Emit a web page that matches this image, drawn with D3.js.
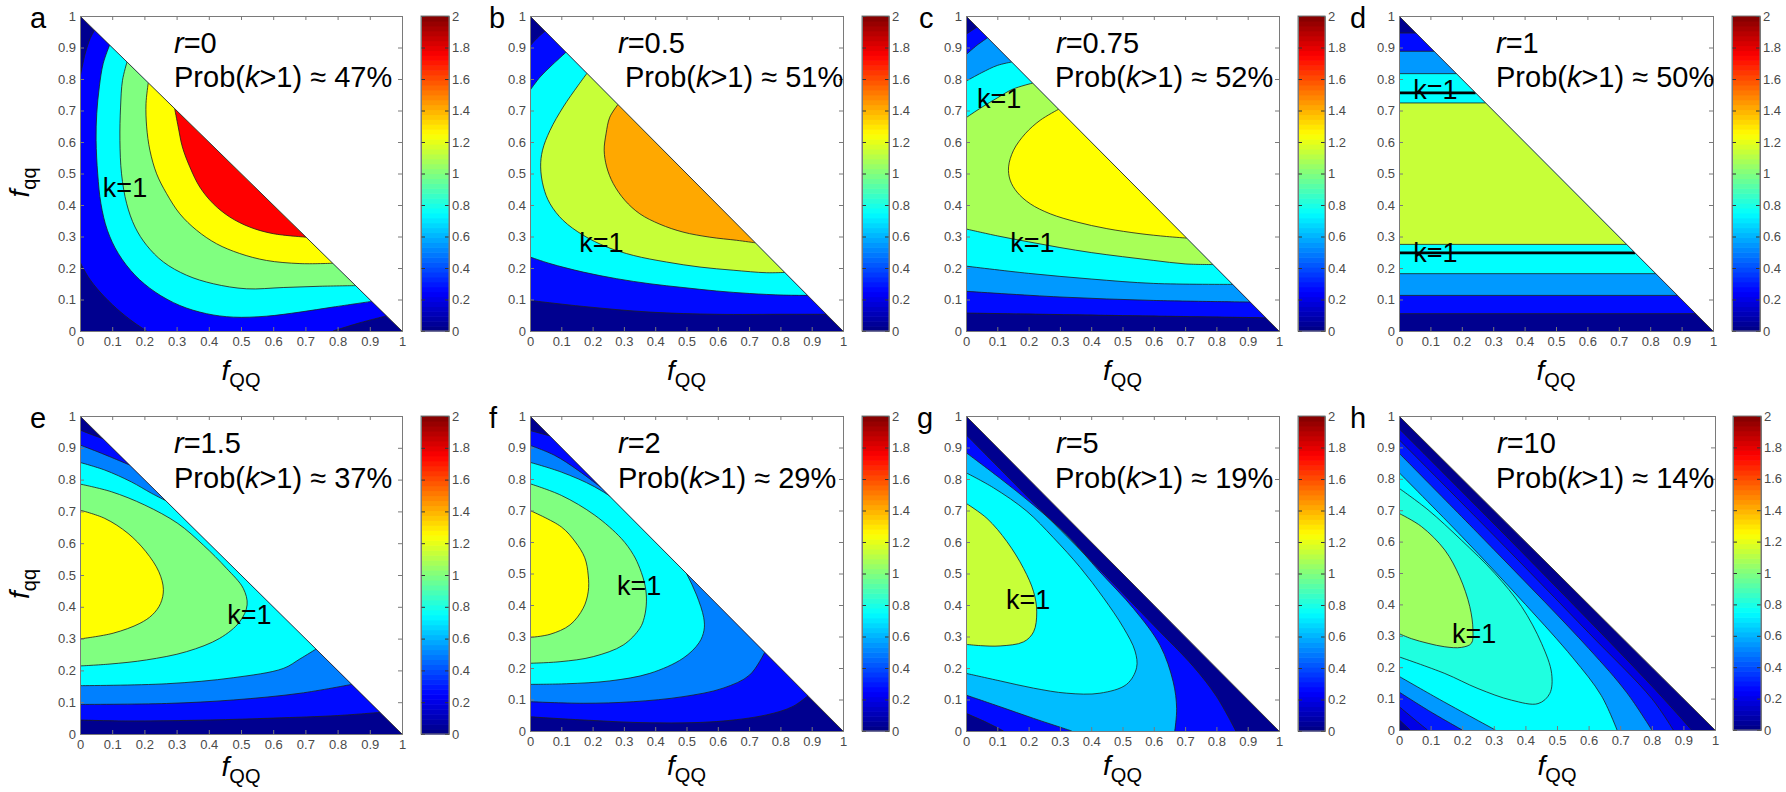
<!DOCTYPE html>
<html><head><meta charset="utf-8">
<script src="https://cdn.jsdelivr.net/npm/d3@7"></script>
<style>
body{margin:0;background:#fff}
svg{display:block}
text{font-family:"Liberation Sans",Arial,Helvetica,sans-serif}
</style>
</head><body>
<svg id="chart" width="1786" height="792"></svg>
<script>
// ---------------- DATA ----------------
const panelLetters = ['a','b','c','d','e','f','g','h'];
const rValues = ['0','0.5','0.75','1','1.5','2','5','10'];
const probPercent = [47, 51, 52, 50, 37, 29, 19, 14];
const axisTicks = [0,0.1,0.2,0.3,0.4,0.5,0.6,0.7,0.8,0.9,1];
const colorbarTicks = [0,0.2,0.4,0.6,0.8,1,1.2,1.4,1.6,1.8,2];
const baseK = [0.03,0.03,0.03,0.03,0.03,0.03,0.03,0.03];

// contour curves: points are [fQQ, fqq]
const curvesA = [
  [[0,0.219],[0.026,0.171],[0.062,0.124],[0.114,0.071],[0.165,0.029],[0.207,0]],
  [[0,0.804],[0.016,0.88],[0.031,0.927],[0.045,0.955]],
  [[0.786,0],[0.869,0.026],[0.952,0.048]],
  [[0.092,0.908],[0.072,0.849],[0.060,0.775],[0.052,0.690],[0.050,0.605],[0.055,0.499],[0.065,0.404],[0.085,0.320],[0.119,0.246],[0.171,0.177],[0.233,0.124],[0.310,0.081],[0.393,0.055],[0.476,0.044],[0.579,0.047],[0.683,0.060],[0.786,0.076],[0.906,0.094]],
  [[0.146,0.854],[0.132,0.796],[0.126,0.711],[0.124,0.605],[0.129,0.499],[0.145,0.404],[0.171,0.330],[0.207,0.272],[0.259,0.219],[0.331,0.177],[0.414,0.150],[0.517,0.134],[0.631,0.138],[0.745,0.142],[0.856,0.144]],
  [[0.212,0.788],[0.205,0.722],[0.207,0.648],[0.217,0.574],[0.238,0.499],[0.269,0.436],[0.310,0.372],[0.362,0.320],[0.424,0.277],[0.496,0.246],[0.579,0.224],[0.683,0.214],[0.785,0.215]],
  [[0.294,0.706],[0.305,0.648],[0.318,0.584],[0.341,0.521],[0.372,0.457],[0.414,0.404],[0.465,0.362],[0.527,0.330],[0.600,0.309],[0.702,0.298]]
];
const bandsA = [{k:0.25,path:[1,3,-2]},{k:0.75,path:[4]},{k:1.0,path:[5]},{k:1.25,path:[6]},{k:1.75,path:[7]}];

const curvesB = [
  [[0,0.097],[0.17,0.078],[0.383,0.060],[0.596,0.053],[0.809,0.053],[0.947,0.053]],
  [[0,0.905],[0.023,0.93],[0.048,0.952]],
  [[0,0.235],[0.064,0.214],[0.170,0.187],[0.277,0.166],[0.383,0.150],[0.489,0.138],[0.596,0.127],[0.702,0.119],[0.809,0.114],[0.887,0.113]],
  [[0,0.764],[0.032,0.806],[0.064,0.838],[0.115,0.885]],
  [[0.182,0.818],[0.154,0.780],[0.106,0.711],[0.064,0.637],[0.040,0.574],[0.034,0.521],[0.043,0.457],[0.064,0.404],[0.106,0.351],[0.170,0.304],[0.245,0.267],[0.330,0.240],[0.436,0.219],[0.543,0.203],[0.649,0.193],[0.755,0.185],[0.814,0.186]],
  [[0.281,0.719],[0.255,0.679],[0.243,0.626],[0.237,0.574],[0.245,0.521],[0.266,0.468],[0.303,0.415],[0.351,0.372],[0.415,0.339],[0.489,0.314],[0.574,0.298],[0.660,0.288],[0.720,0.280]]
];
const bandsB = [{k:0.27,path:[1,-2]},{k:0.75,path:[3,-4]},{k:1.14,path:[5]},{k:1.42,path:[6]}];

const curvesC = [
  [[0,0.057],[0.5,0.049],[0.958,0.042]],
  [[0,0.942],[0.035,0.965]],
  [[0,0.126],[0.3,0.108],[0.6,0.097],[0.908,0.092]],
  [[0,0.877],[0.035,0.907],[0.069,0.931]],
  [[0,0.206],[0.2,0.183],[0.4,0.165],[0.6,0.151],[0.852,0.148]],
  [[0,0.793],[0.05,0.82],[0.1,0.843],[0.146,0.854]],
  [[0,0.677],[0.05,0.71],[0.1,0.74],[0.15,0.768],[0.213,0.787]],
  [[0,0.324],[0.1,0.302],[0.2,0.283],[0.3,0.265],[0.4,0.249],[0.5,0.236],[0.6,0.224],[0.7,0.213],[0.789,0.211]],
  [[0.296,0.704],[0.237,0.669],[0.189,0.626],[0.152,0.574],[0.136,0.521],[0.141,0.479],[0.163,0.441],[0.205,0.404],[0.269,0.372],[0.354,0.346],[0.450,0.325],[0.556,0.309],[0.641,0.300],[0.705,0.295]]
];
const bandsC = [{k:0.27,path:[1,-2]},{k:0.55,path:[3,-4]},{k:0.75,path:[5,-6]},{k:1.08,path:[8,-7]},{k:1.25,path:[9]}];

const curvesD = [
  [[0,0.055],[0.945,0.055]],
  [[0,0.946],[0.054,0.946]],
  [[0,0.113],[0.887,0.113]],
  [[0,0.888],[0.112,0.888]],
  [[0,0.182],[0.818,0.182]],
  [[0,0.817],[0.183,0.817]],
  [[0,0.275],[0.725,0.275]],
  [[0,0.724],[0.276,0.724]]
];
const bandsD = [{k:0.27,path:[1,-2]},{k:0.55,path:[3,-4]},{k:0.75,path:[5,-6]},{k:1.14,path:[7,-8]}];
const kOneLinesD = [
  [[0,0.248],[0.752,0.248]],
  [[0,0.756],[0.244,0.756]]
];

const curvesE = [
  [[0,0.044],[0.14,0.041],[0.4,0.044],[0.6,0.05],[0.8,0.058],[0.932,0.068]],
  [[0,0.956],[0.035,0.942],[0.071,0.929]],
  [[0,0.093],[0.269,0.096],[0.476,0.107],[0.683,0.128],[0.844,0.156]],
  [[0,0.909],[0.066,0.883],[0.154,0.846]],
  [[0,0.152],[0.269,0.158],[0.476,0.177],[0.631,0.206],[0.683,0.236],[0.733,0.267]],
  [[0,0.854],[0.077,0.830],[0.159,0.793],[0.222,0.757],[0.266,0.734]],
  [[0,0.786],[0.097,0.762],[0.201,0.720],[0.304,0.662],[0.383,0.594],[0.455,0.521],[0.507,0.458],[0.519,0.406],[0.496,0.353],[0.434,0.301],[0.331,0.259],[0.207,0.233],[0.093,0.220],[0,0.214]],
  [[0,0.704],[0.077,0.678],[0.149,0.631],[0.205,0.573],[0.245,0.51],[0.259,0.455],[0.25,0.41],[0.225,0.375],[0.186,0.348],[0.103,0.317],[0,0.299]]
];
const bandsE = [{k:0.27,path:[1,-2]},{k:0.5,path:[3,-4]},{k:0.75,path:[5,-6]},{k:1.0,path:[7]},{k:1.25,path:[8]}];

const curvesF = [
  [[0,0.045],[0.170,0.035],[0.383,0.026],[0.596,0.030],[0.755,0.051],[0.840,0.078],[0.888,0.112]],
  [[0,0.954],[0.063,0.937]],
  [[0,0.093],[0.170,0.088],[0.330,0.093],[0.489,0.109],[0.617,0.136],[0.702,0.178],[0.75,0.25]],
  [[0,0.907],[0.079,0.875],[0.153,0.828],[0.226,0.774]],
  [[0,0.853],[0.1,0.822],[0.207,0.775],[0.313,0.706],[0.42,0.621],[0.462,0.568],[0.5,0.5],[0.532,0.432],[0.555,0.36],[0.556,0.32],[0.54,0.28],[0.489,0.231],[0.383,0.183],[0.255,0.159],[0.117,0.150],[0,0.148]],
  [[0,0.785],[0.1,0.748],[0.207,0.685],[0.292,0.611],[0.330,0.56],[0.351,0.516],[0.368,0.46],[0.372,0.41],[0.365,0.36],[0.351,0.326],[0.298,0.273],[0.202,0.236],[0.096,0.220],[0,0.215]],
  [[0,0.70],[0.1,0.648],[0.145,0.6],[0.175,0.55],[0.186,0.495],[0.186,0.442],[0.170,0.390],[0.128,0.337],[0.064,0.307],[0,0.297]]
];
const bandsF = [{k:0.27,path:[1,-2]},{k:0.5,path:[3,-4]},{k:0.75,path:[5]},{k:1.0,path:[6]},{k:1.25,path:[7]}];

const curvesG = [
  [[0,0.941],[0.2,0.74],[0.407,0.533],[0.6,0.335],[0.726,0.205],[0.8,0.11],[0.862,0]],
  [[0,0.884],[0.109,0.802],[0.216,0.717],[0.322,0.622],[0.428,0.505],[0.535,0.389],[0.620,0.272],[0.662,0.156],[0.673,0.071],[0.667,0]],
  [[0,0.820],[0.088,0.772],[0.194,0.698],[0.279,0.614],[0.365,0.519],[0.439,0.423],[0.503,0.328],[0.540,0.254],[0.545,0.201],[0.513,0.148],[0.428,0.120],[0.322,0.120],[0.216,0.136],[0.109,0.159],[0,0.183]],
  [[0,0.723],[0.067,0.675],[0.131,0.601],[0.184,0.516],[0.216,0.442],[0.226,0.378],[0.216,0.315],[0.184,0.283],[0.109,0.270],[0.046,0.271],[0,0.275]],
  [[0,0.056],[0.06,0.03],[0.12,0]],
  [[0,0.114],[0.109,0.077],[0.216,0.040],[0.338,0]]
];
const bandsG = [{k:0.27,path:[5,-1]},{k:0.62,path:[6,-2]},{k:0.75,path:[3]},{k:1.14,path:[4]}];

const curvesH = [
  [[0,0.96],[0.4,0.555],[0.8,0.14],[0.926,0]],
  [[0,0.925],[0.3,0.62],[0.6,0.31],[0.8,0.1],[0.868,0]],
  [[0,0.882],[0.3,0.575],[0.6,0.26],[0.72,0.12],[0.80,0]],
  [[0,0.82],[0.2,0.615],[0.4,0.40],[0.55,0.23],[0.64,0.11],[0.69,0]],
  [[0,0.033],[0.035,0]],
  [[0,0.075],[0.045,0.037],[0.09,0]],
  [[0,0.121],[0.1,0.058],[0.2,0]],
  [[0,0.171],[0.129,0.097],[0.305,0]],
  [[0,0.770],[0.092,0.701],[0.197,0.605],[0.303,0.499],[0.388,0.393],[0.451,0.276],[0.483,0.180],[0.477,0.116],[0.440,0.084],[0.356,0.095],[0.250,0.132],[0.145,0.180],[0,0.233]],
  [[0,0.690],[0.071,0.648],[0.145,0.573],[0.192,0.488],[0.224,0.393],[0.234,0.318],[0.229,0.276],[0.197,0.263],[0.145,0.265],[0.092,0.276],[0.039,0.291],[0,0.307]]
];
const bandsH = [{k:0.2,path:[5,-1]},{k:0.3,path:[6,-2]},{k:0.55,path:[7,-3]},{k:0.75,path:[8,-4]},{k:0.81,path:[9]},{k:1.06,path:[10]}];

const allCurves = [curvesA,curvesB,curvesC,curvesD,curvesE,curvesF,curvesG,curvesH];
const allBands = [bandsA,bandsB,bandsC,bandsD,bandsE,bandsF,bandsG,bandsH];

// ---------------- LAYOUT (positions, not data) ----------------
const layout = [
  {x0:80,  x1:402,  y0:16,  y1:331, cb0:421,  cb1:449,  lx:30,   ly:28,  rx:174,  px:174,  t1:53,  t2:87,  xl:49, ylab:true},
  {x0:530, x1:843,  y0:16,  y1:331, cb0:862,  cb1:889,  lx:489,  ly:28,  rx:618,  px:625,  t1:53,  t2:87,  xl:49},
  {x0:966, x1:1279, y0:16,  y1:331, cb0:1298, cb1:1325, lx:919,  ly:28,  rx:1056, px:1055, t1:53,  t2:87,  xl:49},
  {x0:1399,x1:1713, y0:16,  y1:331, cb0:1732, cb1:1760, lx:1350, ly:28,  rx:1496, px:1496, t1:53,  t2:87,  xl:49},
  {x0:80,  x1:402,  y0:416, y1:734, cb0:421,  cb1:449,  lx:30,   ly:428, rx:174,  px:174,  t1:453, t2:488, xl:42, ylab:true},
  {x0:530, x1:843,  y0:416, y1:731, cb0:862,  cb1:889,  lx:489,  ly:428, rx:618,  px:618,  t1:453, t2:488, xl:44},
  {x0:966, x1:1279, y0:416, y1:731, cb0:1298, cb1:1325, lx:917,  ly:428, rx:1056, px:1055, t1:453, t2:488, xl:44},
  {x0:1399,x1:1715, y0:416, y1:730, cb0:1733, cb1:1761, lx:1350, ly:428, rx:1497, px:1496, t1:453, t2:488, xl:45}
];
const kLabelPos = [
  [[0.071,0.425]],
  [[0.157,0.251]],
  [[0.035,0.708],[0.141,0.251]],
  [[0.045,0.737],[0.045,0.219]],
  [[0.457,0.346]],
  [[0.278,0.432]],
  [[0.128,0.387]],
  [[0.168,0.277]]
];

// ---------------- DRAW ----------------
const svg = d3.select('#chart');
const jet = d3.scaleLinear()
  .domain([0, 0.25, 0.75, 1.25, 1.75, 2])
  .range(['#000080','#0000ff','#00ffff','#ffff00','#ff0000','#800000'])
  .clamp(true);
const fmt = d => String(+(+d).toFixed(1));
const tickColor = '#7a7a7a';
const labelColor = '#4a4a4a';

layout.forEach((L, i) => {
  const x = d3.scaleLinear().domain([0,1]).range([L.x0, L.x1]);
  const y = d3.scaleLinear().domain([0,1]).range([L.y1, L.y0]);
  const g = svg.append('g');
  const tri = [[0,0],[1,0],[0,1]];
  const triPath = 'M' + tri.map(p => x(p[0]) + ',' + y(p[1])).join('L') + 'Z';
  const clipId = 'clip' + i;
  svg.append('clipPath').attr('id', clipId).append('path').attr('d', triPath);

  const fills = g.append('g').attr('clip-path', `url(#${clipId})`);
  fills.append('path').attr('d', triPath).attr('fill', jet(baseK[i]));

  const line = d3.line().x(d => x(d[0])).y(d => y(d[1])).curve(d3.curveCatmullRom.alpha(0.5));
  const curves = allCurves[i];
  allBands[i].forEach(b => {
    let dStr = '';
    b.path.forEach((s, j) => {
      let pts = curves[Math.abs(s) - 1];
      if (s < 0) pts = pts.slice().reverse();
      let p = line(pts);
      if (j > 0) p = 'L' + p.slice(1);
      dStr += p;
    });
    fills.append('path').attr('d', dStr + 'Z').attr('fill', jet(b.k)).attr('stroke', 'none');
  });
  curves.forEach(c => {
    fills.append('path').attr('d', line(c)).attr('fill', 'none')
      .attr('stroke', '#1e1e1e').attr('stroke-width', 0.8);
  });
  if (i === 3) {
    kOneLinesD.forEach(c => {
      fills.append('path').attr('d', d3.line().x(d => x(d[0])).y(d => y(d[1]))(c))
        .attr('fill','none').attr('stroke','#000').attr('stroke-width',2.6);
    });
  }
  // hypotenuse edge
  g.append('line').attr('x1', x(0)).attr('y1', y(1)).attr('x2', x(1)).attr('y2', y(0))
    .attr('stroke', '#2a2a2a').attr('stroke-width', 0.9);

  // axes (ticks inside, box)
  const axB = g.append('g').attr('transform', `translate(0,${L.y1})`)
    .call(d3.axisBottom(x).tickValues(axisTicks).tickSize(-4).tickPadding(6).tickFormat(fmt));
  const axT = g.append('g').attr('transform', `translate(0,${L.y0})`)
    .call(d3.axisTop(x).tickValues(axisTicks).tickSize(-4).tickFormat(''));
  const axL = g.append('g').attr('transform', `translate(${L.x0},0)`)
    .call(d3.axisLeft(y).tickValues(axisTicks).tickSize(-4).tickPadding(4).tickFormat(fmt));
  const axR = g.append('g').attr('transform', `translate(${L.x1},0)`)
    .call(d3.axisRight(y).tickValues(axisTicks).tickSize(-4).tickFormat(''));
  [axB, axT, axL, axR].forEach(a => {
    a.select('.domain').attr('stroke', tickColor).attr('stroke-width', 1);
    a.selectAll('.tick line').attr('stroke', tickColor);
    a.selectAll('text').attr('font-size', 13).attr('fill', labelColor)
      .attr('font-family', '"Liberation Sans",Arial,sans-serif');
  });

  // colorbar
  const cy = d3.scaleLinear().domain([0,2]).range([L.y1, L.y0]);
  const nSteps = 64;
  const steps = d3.range(nSteps);
  const cb = g.append('g');
  cb.selectAll('rect').data(steps).enter().append('rect')
    .attr('x', L.cb0).attr('width', L.cb1 - L.cb0)
    .attr('y', s => cy((s + 1) * 2 / nSteps))
    .attr('height', s => cy(s * 2 / nSteps) - cy((s + 1) * 2 / nSteps) + 0.6)
    .attr('fill', s => jet((s + 0.5) * 2 / nSteps));
  const cbL = cb.append('g').attr('transform', `translate(${L.cb0},0)`)
    .call(d3.axisLeft(cy).tickValues(colorbarTicks).tickSize(-4).tickFormat(''));
  const cbR = cb.append('g').attr('transform', `translate(${L.cb1},0)`)
    .call(d3.axisRight(cy).tickValues(colorbarTicks).tickSize(-4).tickPadding(3).tickFormat(fmt));
  cb.append('rect').attr('x', L.cb0).attr('y', L.y0).attr('width', L.cb1 - L.cb0).attr('height', L.y1 - L.y0)
    .attr('fill', 'none').attr('stroke', tickColor);
  [cbL, cbR].forEach(a => {
    a.select('.domain').attr('stroke', tickColor);
    a.selectAll('.tick line').attr('stroke', '#333');
    a.selectAll('text').attr('font-size', 13).attr('fill', labelColor)
      .attr('font-family', '"Liberation Sans",Arial,sans-serif').attr('text-anchor','start');
  });

  // panel letter
  g.append('text').attr('x', L.lx).attr('y', L.ly).attr('font-size', 29).attr('fill', '#000')
    .text(panelLetters[i]);

  // titles
  const t1 = g.append('text').attr('x', L.rx).attr('y', L.t1).attr('font-size', 29).attr('fill', '#000');
  t1.append('tspan').attr('font-style', 'italic').text('r');
  t1.append('tspan').text('=' + rValues[i]);
  const t2 = g.append('text').attr('x', L.px).attr('y', L.t2).attr('font-size', 29).attr('fill', '#000');
  t2.append('tspan').text('Prob(');
  t2.append('tspan').attr('font-style', 'italic').text('k');
  t2.append('tspan').text('>1) \u2248 ' + probPercent[i] + '%');

  // k=1 labels
  kLabelPos[i].forEach(p => {
    g.append('text').attr('x', x(p[0])).attr('y', y(p[1])).attr('font-size', 27).attr('fill', '#000').text('k=1');
  });

  // x label
  const xl = g.append('text').attr('x', (L.x0 + L.x1) / 2).attr('y', L.y1 + L.xl)
    .attr('text-anchor', 'middle').attr('font-size', 28).attr('fill', '#000');
  xl.append('tspan').attr('font-style', 'italic').text('f');
  xl.append('tspan').attr('font-size', 20).attr('dy', 7).text('QQ');

  if (L.ylab) {
    const cyc = (L.y0 + L.y1) / 2 + 9;
    const yl = g.append('text').attr('transform', `translate(29,${cyc}) rotate(-90)`)
      .attr('text-anchor', 'middle').attr('font-size', 28).attr('fill', '#000');
    yl.append('tspan').attr('font-style', 'italic').text('f');
    yl.append('tspan').attr('font-size', 20).attr('dy', 7).text('qq');
  }
});
</script>
</body></html>
